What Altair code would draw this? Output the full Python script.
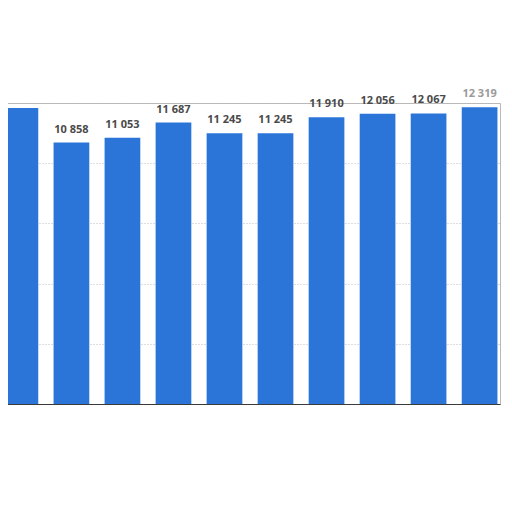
import altair as alt
import pandas as pd

categories = ["1", "2", "3", "4", "5", "6", "7", "8", "9", "10"]
values = [12290, 10858, 11053, 11687, 11245, 11245, 11910, 12056, 12067, 12319]
labels = ["", "10 858", "11 053", "11 687", "11 245", "11 245", "11 910", "12 056", "12 067", "12 319"]

df = pd.DataFrame({"cat": categories, "value": values, "label": labels})

x = alt.X("cat:N", sort=categories,
          scale=alt.Scale(paddingInner=0.3, paddingOuter=0.05),
          axis=alt.Axis(labels=False, ticks=False, title=None, domain=True,
                        domainColor="#3a3a3a", domainWidth=1.2, grid=False))
y = alt.Y("value:Q", scale=alt.Scale(domain=[0, 12500], nice=False),
          axis=alt.Axis(labels=False, ticks=False, title=None, domain=False,
                        values=[0, 2500, 5000, 7500, 10000, 12500],
                        grid=True, gridColor="#bdbdbd", gridDash=[1, 2], gridWidth=1))

bars = alt.Chart(df).mark_bar(color="#2b75d9").encode(x=x, y=y)

text = alt.Chart(df).mark_text(dy=-10, baseline="alphabetic", font="Open Sans",
                               fontWeight="bold", fontSize=11).encode(
    x=alt.X("cat:N", sort=categories),
    y="value:Q",
    text="label:N",
    color=alt.condition(alt.datum.cat == "10", alt.value("#9a9a9a"), alt.value("#4a4a4a")),
)

chart = (bars + text).properties(
    width=500, height=301,
    autosize=alt.AutoSizeParams(type="none"),
    padding={"left": -8, "top": 95, "right": 4, "bottom": 100},
    background="white",
).configure_view(stroke="#b8b8b8", strokeWidth=1)

chart.save("out.html", embed_options={"renderer": "svg", "actions": False})
